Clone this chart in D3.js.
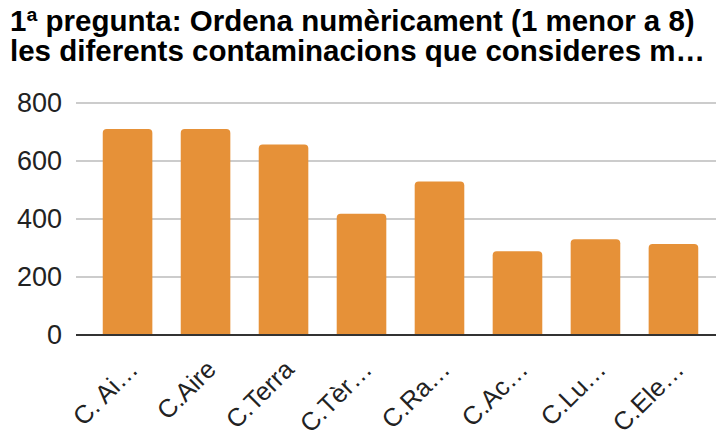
<!DOCTYPE html>
<html>
<head>
<meta charset="utf-8">
<script src="https://cdn.jsdelivr.net/npm/d3@7"></script>
<style>
	body { margin: 0; background: #fff; }
	svg text { font-family: "Liberation Sans", Arial, sans-serif; }
</style>
</head>
<body>
<div id="chart"></div>
<script>
//data
const categories = ["C. Ai…", "C.Aire", "C.Terra", "C.Tèr…", "C.Ra…", "C.Ac…", "C.Lu…", "C.Ele…"];
const values = [710, 710, 657, 418, 529, 289, 330, 314];
const yTicks = [0, 200, 400, 600, 800];
const titleLines = ["1ª pregunta: Ordena numèricament (1 menor a 8)", "les diferents contaminacions que consideres m…"];

//sizing
let width = 716;
let height = 434;
let margin = {top: 103, right: 0, bottom: 99, left: 76};

let svg = d3.select("#chart")
	.append("svg")
	.attr("width", width)
	.attr("height", height);

//title
svg.selectAll(".title")
	.data(titleLines)
	.enter()
	.append("text")
	.attr("class", "title")
	.attr("x", 10)
	.attr("y", (d, i) => 31 + i * 30)
	.attr("font-size", 29.5)
	.attr("font-weight", "bold")
	.attr("fill", "#000")
	.text(d => d);

//scales
const xScale = d3.scaleBand()
	.domain(categories)
	.range([margin.left, 725])
	.paddingInner(0.364)
	.paddingOuter(0.343);

const yScale = d3.scaleLinear()
	.domain([0, 800])
	.range([height - margin.bottom, margin.top]);

//grid
svg.append("g")
	.selectAll("line")
	.data(yTicks.filter(d => d > 0))
	.enter()
	.append("line")
	.attr("x1", margin.left)
	.attr("x2", width)
	.attr("y1", d => yScale(d))
	.attr("y2", d => yScale(d))
	.attr("stroke", "#cccccc")
	.attr("stroke-width", 2);

//y axis labels
const yAxis = d3.axisLeft(yScale)
	.tickValues(yTicks)
	.tickSize(0)
	.tickPadding(14);

svg.append("g")
	.attr("class", "y_axis")
	.attr("transform", `translate(${margin.left},0)`)
	.call(yAxis)
	.call(g => g.select(".domain").remove())
	.call(g => g.selectAll("text")
		.attr("font-size", 27)
		.attr("font-family", "Liberation Sans, Arial, sans-serif")
		.attr("fill", "#222"));

//bars with rounded top
const r = 4;
function barPath(d, i) {
	const x0 = xScale(categories[i]);
	const x1 = x0 + xScale.bandwidth();
	const y0 = yScale(0);
	const y1 = yScale(d);
	return `M${x0},${y0}V${y1 + r}Q${x0},${y1} ${x0 + r},${y1}H${x1 - r}Q${x1},${y1} ${x1},${y1 + r}V${y0}Z`;
}

svg.append("g")
	.selectAll("path")
	.data(values)
	.enter()
	.append("path")
	.attr("class", "bar")
	.attr("d", barPath)
	.attr("fill", "#e69138");

//baseline
svg.append("line")
	.attr("x1", margin.left)
	.attr("x2", width)
	.attr("y1", yScale(0))
	.attr("y2", yScale(0))
	.attr("stroke", "#333")
	.attr("stroke-width", 2);

//x labels
svg.append("g")
	.selectAll("text")
	.data(categories)
	.enter()
	.append("text")
	.attr("transform", d => `translate(${xScale(d) + xScale.bandwidth() / 2 + 12},${yScale(0) + 36}) rotate(-45)`)
	.attr("text-anchor", "end")
	.attr("font-size", 25.5)
	.attr("fill", "#222")
	.text(d => d);
</script>
</body>
</html>
